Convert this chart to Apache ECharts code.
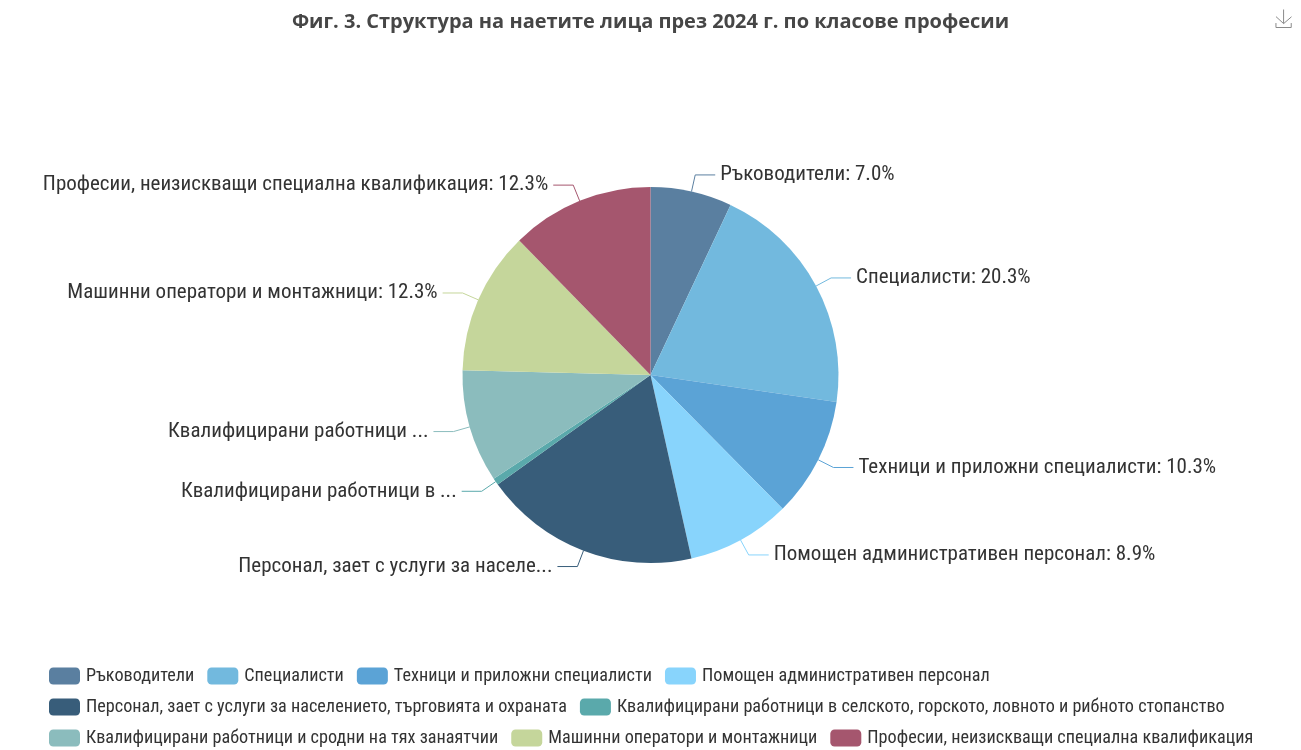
<!DOCTYPE html>
<html><head><meta charset="utf-8">
<script src="https://cdn.jsdelivr.net/npm/echarts@6/dist/echarts.min.js"></script>
<style>html,body{margin:0;padding:0;background:#fff}#c{width:1301px;height:750px}</style>
</head><body><div id="c"></div>
<script>
const categories = [
  "Ръководители",
  "Специалисти",
  "Техници и приложни специалисти",
  "Помощен административен персонал",
  "Персонал, зает с услуги за населението, търговията и охраната",
  "Квалифицирани работници в селското, горското, ловното и рибното стопанство",
  "Квалифицирани работници и сродни на тях занаятчии",
  "Машинни оператори и монтажници",
  "Професии, неизискващи специална квалификация"
];
const shares = [7.0, 20.3, 10.3, 8.9, 18.6, 0.6, 9.7, 12.3, 12.3];
const sliceLabels = [
  "Ръководители: 7.0%",
  "Специалисти: 20.3%",
  "Техници и приложни специалисти: 10.3%",
  "Помощен административен персонал: 8.9%",
  "Персонал, зает с услуги за населе...",
  "Квалифицирани работници в ...",
  "Квалифицирани работници ...",
  "Машинни оператори и монтажници: 12.3%",
  "Професии, неизискващи специална квалификация: 12.3%"
];
const colors = ["#5a7fa0","#72b9de","#5ba3d6","#88d4fc","#385d7a","#5aa9ab","#8bbcbd","#c5d69b","#a5566e"];
const FONT = "'Roboto Condensed', sans-serif";
const chart = echarts.init(document.getElementById('c'));
chart.setOption({
  color: colors,
  title: {
    text: "Фиг. 3. Структура на наетите лица през 2024 г. по класове професии",
    left: 'center', top: 7,
    textStyle: {fontFamily: "'Open Sans', sans-serif", fontSize: 20, fontWeight: 'bold', color: '#464646'}
  },
  toolbox: {right: -8, top: -8, feature: {saveAsImage: {title: ''}}, iconStyle: {borderColor: '#8a8a8a'}, itemSize: 18},
  legend: {
    left: 44, right: 20, top: 662, itemWidth: 31, itemHeight: 17, itemGap: 13,
    icon: 'roundRect',
    textStyle: {fontFamily: FONT, fontSize: 18.2, color: '#333', padding: [0,0,0,1]},
    data: categories
  },
  series: [{
    type: 'pie', center: ['50%', '50%'], radius: 188,
    startAngle: 90, clockwise: true,
    data: categories.map((n, i) => ({name: n, value: shares[i]})),
    label: {
      fontFamily: FONT, fontSize: 21, color: '#333',
      formatter: p => sliceLabels[p.dataIndex]
    },
    labelLine: {length: 17, length2: 20, lineStyle: {width: 1}},
    itemStyle: {borderWidth: 0}
  }]
});
</script></body></html>
